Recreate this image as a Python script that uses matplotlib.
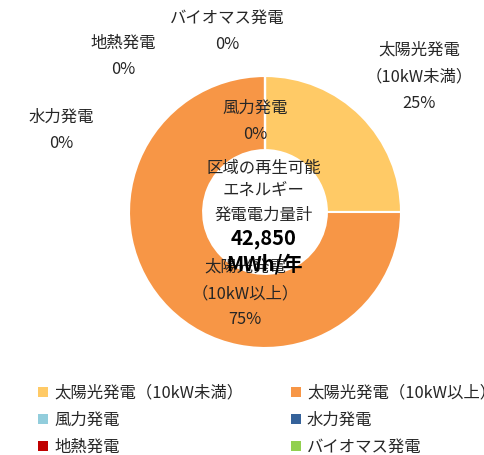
import matplotlib.pyplot as plt
from matplotlib.patches import Rectangle

plt.rcParams['font.family'] = ['Noto Sans CJK JP', 'DejaVu Sans']

# --- data --- #
sources = ["太陽光発電（10kW未満）", "太陽光発電（10kW以上）", "風力発電", "水力発電", "地熱発電", "バイオマス発電"]
label_names = ["太陽光発電\n（10kW未満）", "太陽光発電\n（10kW以上）", "風力発電", "水力発電", "地熱発電", "バイオマス発電"]
shares = [25, 75, 0, 0, 0, 0]
colors = ["#FFCA66", "#F79646", "#92CDDC", "#35629A", "#C00000", "#92D050"]
center_title = ["区域の再生可能", "エネルギー", "発電電力量計"]
total_value = "42,850"
total_unit = "MWh/年"

W, H = 484, 456
FS = 11.8

# label anchor points (pixel centre of first line)
label_pos = [(419, 50), (245, 267), (255, 108), (61, 117), (123, 43), (227, 18)]
LINE = 26.5


def px(x, y):
	"""! @brief pixel -> figure fraction """
	return x / W, 1 - y / H


fig = plt.figure( figsize=(W/100, H/100), dpi=100 )
cx, cy, r = 265, 213, 136
ax = fig.add_axes( [ (cx-r)/W, (H-cy-r)/H, 2*r/W, 2*r/H ] )
ax.pie( shares, colors=colors, startangle=90, counterclock=False, radius=1,
	wedgeprops=dict( width=0.545, edgecolor="white", linewidth=1.5 ) )
ax.set_xlim( -1, 1 )
ax.set_ylim( -1, 1 )
ax.set_aspect( "equal" )
ax.axis( "off" )

# slice labels
for name, share, (x, y) in zip( label_names, shares, label_pos ):
	lines = name.split("\n") + [ f"{share}%" ]
	for i, t in enumerate( lines ):
		fig.text( *px( x, y + i*LINE ), t, ha="center", va="center", fontsize=FS, color="#262626" )

# centre text
for i, t in enumerate( center_title ):
	fig.text( *px( 264, 168 + i*23.5 ), t, ha="center", va="center", fontsize=FS, color="#262626" )
fig.text( *px( 264, 239 ), total_value, ha="center", va="center", fontsize=14.5, fontweight="bold", color="black" )
fig.text( *px( 264, 264 ), total_unit, ha="center", va="center", fontsize=14.5, fontweight="bold", color="black" )

# legend
for i, (name, col) in enumerate( zip( sources, colors ) ):
	row, c = i // 2, i % 2
	x0 = [ 38, 291 ][c]
	y0 = 393 + 27*row
	fig.add_artist( Rectangle( px( x0, y0+5 ), 10/W, 10/H, facecolor=col, edgecolor="none", transform=fig.transFigure ) )
	fig.text( *px( x0+16, y0 ), name, ha="left", va="center", fontsize=FS, color="#262626" )

fig.savefig( "out.png", dpi=100 )
